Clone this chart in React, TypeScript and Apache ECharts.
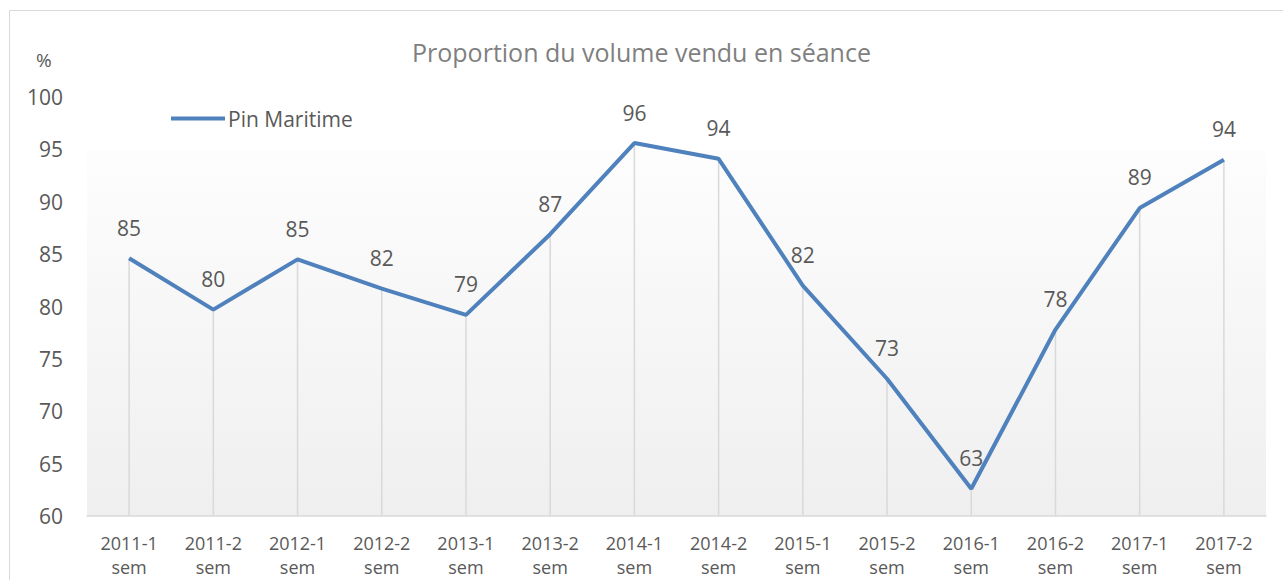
import React, { useEffect, useRef } from "react";
import * as echarts from "echarts";

const categories = [
  "2011-1\nsem", "2011-2\nsem", "2012-1\nsem", "2012-2\nsem", "2013-1\nsem", "2013-2\nsem", "2014-1\nsem",
  "2014-2\nsem", "2015-1\nsem", "2015-2\nsem", "2016-1\nsem", "2016-2\nsem", "2017-1\nsem", "2017-2\nsem",
];
const pinMaritime = [84.6, 79.7, 84.5, 81.7, 79.2, 86.9, 95.6, 94.1, 82.0, 73.1, 62.6, 77.8, 89.4, 94.0];
const seriesName = "Pin Maritime";
const titleText = "Proportion du volume vendu en séance";
const yMin = 60;
const yMax = 100;
const yStep = 5;

const FONT = "'Open Sans', 'Noto Sans', sans-serif";

export default function App() {
  const ref = useRef<HTMLDivElement>(null);
  useEffect(() => {
    if (!ref.current) return;
    const chart = echarts.init(ref.current, null, { renderer: "svg" });
    chart.setOption({
      animation: false,
      backgroundColor: "#ffffff",
      textStyle: { fontFamily: FONT },
      title: {
        text: titleText,
        left: "center",
        top: 34,
        textStyle: { fontFamily: FONT, fontSize: 25, fontWeight: "normal", color: "#7f7f7f" },
      },
      graphic: [
        {
          type: "rect",
          z: -10,
          shape: { x: 9.5, y: 10.5, width: 1300, height: 600 },
          style: { fill: "#ffffff", stroke: "#d9d9d9", lineWidth: 1 },
        },
        {
          type: "rect",
          z: -9,
          shape: { x: 87, y: 150, width: 1179, height: 366 },
          style: {
            fill: new echarts.graphic.LinearGradient(0, 0, 0, 1, [
              { offset: 0, color: "#fdfdfd" },
              { offset: 1, color: "#efefef" },
            ]),
          },
        },
        {
          type: "text",
          left: 36,
          top: 50,
          style: { text: "%", fontFamily: FONT, fontSize: 19, fill: "#595959" },
        },
      ],
      legend: {
        data: [seriesName],
        left: 166,
        top: 103,
        icon: "rect",
        itemWidth: 54,
        itemHeight: 4,
        itemGap: 4,
        textStyle: { fontFamily: FONT, fontSize: 21, color: "#595959", padding: [0, 0, 0, -2] },
      },
      grid: { left: 87, right: 17, top: 97, bottom: 64, containLabel: false },
      xAxis: {
        type: "category",
        data: categories,
        boundaryGap: true,
        axisLine: { show: true, lineStyle: { color: "#d9d9d9", width: 1.5 } },
        axisTick: { show: false },
        axisLabel: {
          interval: 0,
          margin: 15,
          fontFamily: FONT,
          fontSize: 18,
          lineHeight: 24,
          color: "#595959",
        },
      },
      yAxis: {
        type: "value",
        min: yMin,
        max: yMax,
        interval: yStep,
        axisLine: { show: false },
        axisTick: { show: false },
        splitLine: { show: false },
        axisLabel: { fontFamily: FONT, fontSize: 21, color: "#595959", margin: 24 },
      },
      series: [
        {
          name: "drop",
          type: "bar",
          data: pinMaritime,
          barWidth: 1.5,
          silent: true,
          z: 1,
          itemStyle: { color: "#d9d9d9" },
          legendHoverLink: false,
        },
        {
          name: seriesName,
          type: "line",
          data: pinMaritime,
          showSymbol: true,
          symbol: "circle",
          symbolSize: 0.1,
          z: 5,
          lineStyle: { color: "#4f81bd", width: 4 },
          itemStyle: { color: "#4f81bd" },
          label: {
            show: true,
            position: "top",
            distance: 20,
            fontFamily: FONT,
            fontSize: 21,
            color: "#595959",
            formatter: (p: any) => String(Math.round(p.value)),
          },
        },
      ],
    });
    return () => chart.dispose();
  }, []);
  return (
    <div
      ref={ref}
      style={{ position: "absolute", left: 0, top: 0, width: 1283, height: 580 }}
    />
  );
}
